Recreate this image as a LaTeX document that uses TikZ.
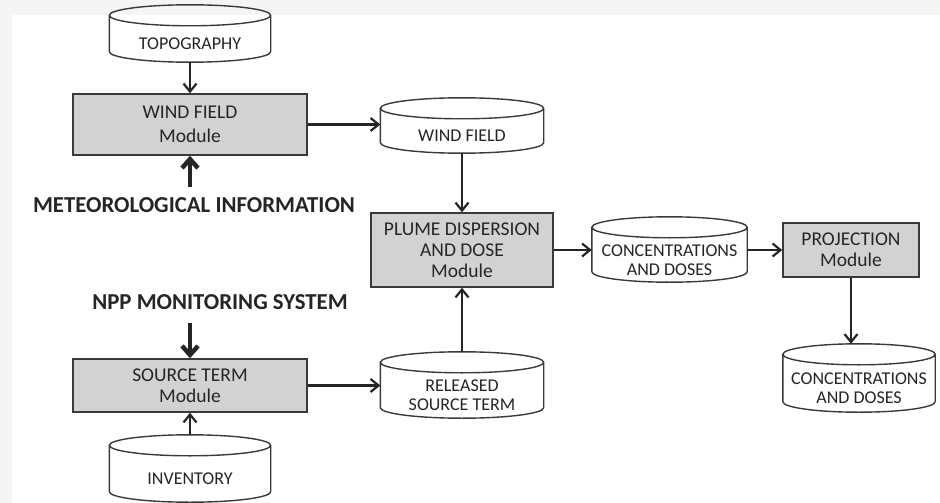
\documentclass[tikz,border=0pt]{standalone}
\usepackage{fontspec}
\setmainfont{Carlito}
\usepackage{tikz}
\usetikzlibrary{calc}
\usetikzlibrary{arrows.meta}
\definecolor{fond}{HTML}{F5F5F5}
\definecolor{trait}{HTML}{3A3A3A}
\definecolor{texte}{HTML}{252525}
\definecolor{gris}{HTML}{D2D2D2}
\tikzstyle{module}  =[draw=trait, fill=gris, line width=1.4pt, text=texte, align=center, inner sep=0pt, font=\fontsize{19.5}{21}\selectfont]
\tikzstyle{donnees} =[rectangle, text=texte, align=center, inner sep=0pt, font=\fontsize{18}{19}\selectfont]
\tikzstyle{contour} =[draw=trait, line width=1.4pt]
\tikzstyle{fleche}  =[-{Straight Barb[length=8pt,width=13pt]}, line width=2.2pt, color=texte]
\tikzstyle{epais}   =[-{Straight Barb[length=9pt,width=16pt]}, line width=4.5pt, color=texte, line cap=butt]
\tikzstyle{entree}  =[text=texte, font=\bfseries\fontsize{22.8}{24}\selectfont]

\def \rayon {10.5pt} %demi-hauteur des ellipses des cylindres

%cylindre autour du corps d'un noeud (le texte reste centre dans le corps)
\newcommand{\cylindre}[1]{%
  \draw[contour] let \p1=(#1.west), \p2=(#1.east), \n1={(\x2-\x1)/2} in
    ([yshift=\rayon]#1.north west) -- ([yshift=\rayon]#1.south west)
    arc[start angle=180, end angle=360, x radius=\n1, y radius=\rayon]
    -- ([yshift=\rayon]#1.north east)
    arc[start angle=0, end angle=360, x radius=\n1, y radius=\rayon];
  \coordinate (#1-haut) at ([yshift=2*\rayon]#1.north);
}

\begin{document}
\begin{tikzpicture}[x=1pt,y=1pt]

%%%%%%%%%%%%%%%%%%%%%%%%
%fond et cadre
%%%%%%%%%%%%%%%%%%%%%%%%
\fill[fond] (0,0) rectangle (940,-503);
\fill[white] (12,-15) rectangle (940,-503);
\useasboundingbox (0,0) rectangle (940,-503);

%%%%%%%%%%%%%%%%%%%%%%%%
%modules (boites grises)
%%%%%%%%%%%%%%%%%%%%%%%%
\node[module, minimum width=234, minimum height=61] (vent) at (190,-124.5) {WIND FIELD\\[3pt]Module};
\node[module, minimum width=182, minimum height=74] (panache) at (462,-250) {PLUME DISPERSION\\AND DOSE\\Module};
\node[module, minimum width=136, minimum height=54] (projection) at (851,-250) {PROJECTION\\Module};
\node[module, minimum width=234, minimum height=53] (source) at (190,-385.5) {SOURCE TERM\\Module};

%%%%%%%%%%%%%%%%%%%%%%%%
%donnees (corps des cylindres)
%%%%%%%%%%%%%%%%%%%%%%%%
\node[donnees, minimum width=161, minimum height=36] (topo) at (190,-44) {TOPOGRAPHY};
\node[donnees, minimum width=163, minimum height=34] (champ) at (462,-136) {WIND FIELD};
\node[donnees, minimum width=155, minimum height=44] (conc) at (669.5,-260) {CONCENTRATIONS\\AND DOSES};
\node[donnees, minimum width=152, minimum height=47] (concproj) at (859,-388.5) {CONCENTRATIONS\\AND DOSES};
\node[donnees, minimum width=163, minimum height=45] (rejet) at (462,-395.5) {RELEASED\\SOURCE TERM};
\node[donnees, minimum width=161, minimum height=46] (inventaire) at (190,-479) {INVENTORY};

\foreach \nom in {topo,champ,conc,concproj,rejet,inventaire}{\cylindre{\nom}}

%%%%%%%%%%%%%%%%%%%%%%%%
%entrees externes
%%%%%%%%%%%%%%%%%%%%%%%%
\node[entree] (meteo) at (194,-205) {METEOROLOGICAL INFORMATION};
\node[entree] (npp) at (220,-302) {NPP MONITORING SYSTEM};
\coordinate (pmeteo) at (190,-187);
\coordinate (pnpp) at (190,-323);

%%%%%%%%%%%%%%%%%%%%%%%%
%fleches
%%%%%%%%%%%%%%%%%%%%%%%%
\draw[fleche] (topo) -- (vent);
\draw[epais] (pmeteo) -- (vent.south);
\draw[fleche] (vent.east) -- (vent.east -| champ.west);
\draw[fleche] (champ) -- (panache);
\draw[fleche] (panache.east) -- (panache.east -| conc.west);
\draw[fleche] (projection.west -| conc.east) -- (projection.west);
\draw[fleche] (projection.south) -- (projection.south |- concproj-haut);
\draw[epais] (pnpp) -- (source.north);
\draw[fleche] (inventaire-haut) -- (source.south);
\draw[fleche] (source.east) -- (source.east -| rejet.west);
\draw[fleche] (rejet-haut) -- (panache.south);

\end{tikzpicture}
\end{document}
